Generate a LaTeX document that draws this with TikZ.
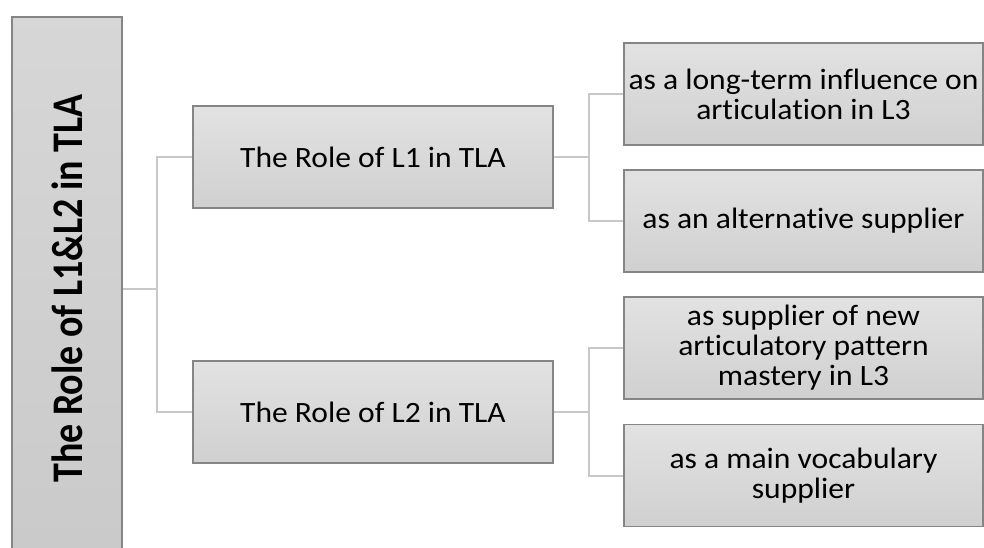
\documentclass[tikz,border=0pt]{standalone}
\usepackage{fontspec}
\setmainfont{Carlito}[FakeStretch=1.07, Ligatures=NoCommon]
\newfontfamily\rootfont{Carlito}[Ligatures=NoCommon]
\usetikzlibrary{positioning}
\definecolor{boxborder}{HTML}{858585}
\definecolor{boxtop}{HTML}{E2E2E2}
\definecolor{boxbot}{HTML}{D0D0D0}
\definecolor{conncol}{HTML}{C8C8C8}
\tikzset{
  box/.style={draw=boxborder, line width=1.2pt, top color=boxtop, bottom color=boxbot,
    align=center, inner sep=0pt, text=black},
  midbox/.style={box, minimum width=360pt, minimum height=102pt,
    font=\fontsize{29.5}{30}\selectfont},
  leafbox/.style={box, minimum width=359pt, minimum height=102pt,
    font=\fontsize{29.5}{30}\selectfont},
  conn/.style={draw=conncol, line width=2pt}
}
\begin{document}
\begin{tikzpicture}[x=1pt,y=-1pt]
\useasboundingbox (0,0) rectangle (984,548);
\clip (0,0) rectangle (984,548);
\node[box, minimum width=110pt, minimum height=543pt, top color=boxtop!95!black, bottom color=boxbot!97!black] (root) at (67,288.5)
  {\rotatebox{90}{\scalebox{1}[1.15]{\rootfont\bfseries\fontsize{38}{38}\selectfont The Role of L1\&L2 in TLA}}};
\node[midbox] (l1) at (373,157) {The Role of L1 in TLA};
\node[midbox] (l2) at (373,412) {The Role of L2 in TLA};
\node[leafbox] (c1) at (803.5,94) {as a long-term influence on\\articulation in L3};
\node[leafbox] (c2) at (803.5,221) {as an alternative supplier};
\node[leafbox] (c3) at (803.5,348) {as supplier of new\\articulatory pattern\\mastery in L3};
\node[leafbox] (c4) at (803.5,475.5) {as a main vocabulary\\supplier};
\coordinate (j0) at (157,288.5);
\coordinate (j1) at (589,157);
\coordinate (j2) at (589,412);
\draw[conn] (root.east) -- (j0);
\draw[conn] (l1.west) -| (j0) |- (l2.west);
\draw[conn] (l1.east) -- (j1);
\draw[conn] (c1.west) -| (j1) |- (c2.west);
\draw[conn] (l2.east) -- (j2);
\draw[conn] (c3.west) -| (j2) |- (c4.west);
\end{tikzpicture}
\end{document}
